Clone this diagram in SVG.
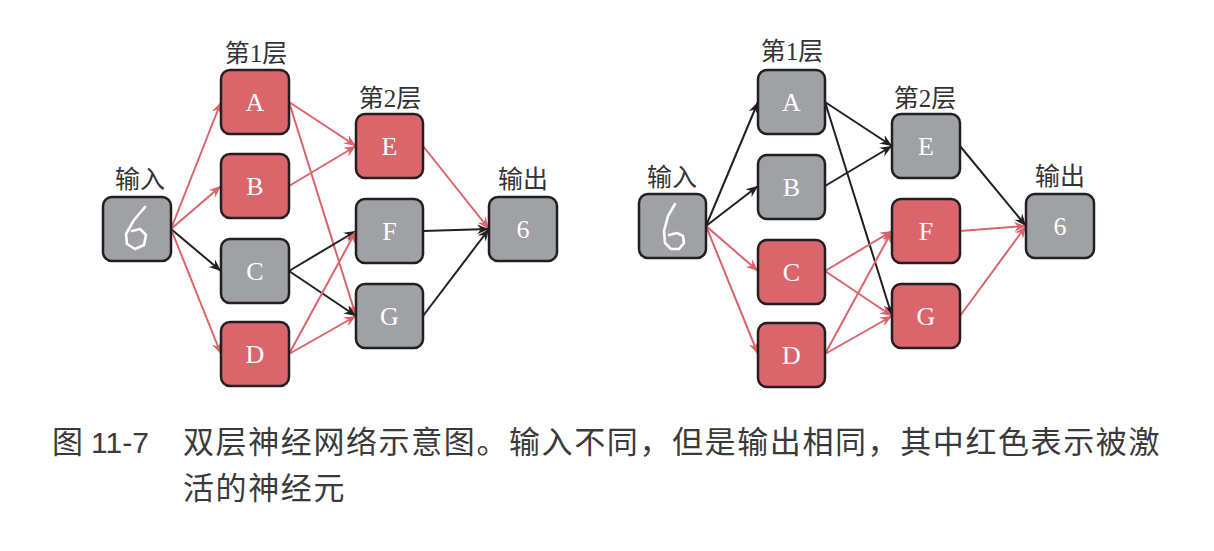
<svg xmlns="http://www.w3.org/2000/svg" width="1214" height="551" viewBox="0 0 1214 551">
<style>
.box{stroke:#231f20;stroke-width:2.5}
.g{fill:#a0a1a5}
.r{fill:#da666b}
.lt{font-family:"Liberation Serif","Noto Sans CJK SC",serif;font-size:26px;fill:#ffffff;text-anchor:middle}
.hd{font-family:"Liberation Serif","Noto Sans CJK SC",serif;font-size:25px;fill:#333333;text-anchor:middle}
.cap{font-family:"Liberation Sans","Noto Sans CJK SC",sans-serif;font-size:31px;fill:#3a3a3a;letter-spacing:1.6px}
.num{font-family:"Liberation Sans",sans-serif;font-size:30px;fill:#3a3a3a}
.er{stroke:#db636b;stroke-width:2;fill:none;marker-end:url(#ar)}
.eb{stroke:#231f20;stroke-width:2;fill:none;marker-end:url(#ab)}
.dig{fill:none;stroke:#ffffff;stroke-width:2.6;stroke-linecap:round;stroke-linejoin:round}
</style>
<defs>
<marker id="ar" markerUnits="userSpaceOnUse" markerWidth="14" markerHeight="12" refX="12" refY="6" orient="auto" viewBox="0 0 14 12">
<path d="M0,1 L12,6 L0,11 L4,6 z" fill="#db636b"/>
</marker>
<marker id="ab" markerUnits="userSpaceOnUse" markerWidth="14" markerHeight="12" refX="12" refY="6" orient="auto" viewBox="0 0 14 12">
<path d="M0,1 L12,6 L0,11 L4,6 z" fill="#231f20"/>
</marker>
</defs>

<g id="connectors">
<line class="er" x1="171" y1="229" x2="221" y2="102"/>
<line class="er" x1="171" y1="229" x2="221" y2="186"/>
<line class="eb" x1="171" y1="229" x2="221" y2="271"/>
<line class="er" x1="171" y1="229" x2="221" y2="354"/>
<line class="er" x1="289" y1="102" x2="356" y2="146"/>
<line class="er" x1="289" y1="102" x2="356" y2="316"/>
<line class="er" x1="289" y1="186" x2="356" y2="146"/>
<line class="eb" x1="289" y1="271" x2="356" y2="231"/>
<line class="eb" x1="289" y1="271" x2="356" y2="316"/>
<line class="er" x1="289" y1="354" x2="356" y2="231"/>
<line class="er" x1="289" y1="354" x2="356" y2="316"/>
<line class="er" x1="423" y1="146" x2="489" y2="229"/>
<line class="eb" x1="423" y1="231" x2="489" y2="229"/>
<line class="eb" x1="423" y1="316" x2="489" y2="229"/>
<line class="eb" x1="706" y1="226" x2="758" y2="102"/>
<line class="eb" x1="706" y1="226" x2="758" y2="186"/>
<line class="er" x1="706" y1="226" x2="758" y2="271"/>
<line class="er" x1="706" y1="226" x2="758" y2="354"/>
<line class="eb" x1="825" y1="102" x2="892" y2="146"/>
<line class="eb" x1="825" y1="102" x2="892" y2="316"/>
<line class="eb" x1="825" y1="186" x2="892" y2="146"/>
<line class="er" x1="825" y1="271" x2="892" y2="231"/>
<line class="er" x1="825" y1="271" x2="892" y2="316"/>
<line class="er" x1="825" y1="354" x2="892" y2="231"/>
<line class="er" x1="825" y1="354" x2="892" y2="316"/>
<line class="eb" x1="960" y1="146" x2="1026" y2="226"/>
<line class="er" x1="960" y1="231" x2="1026" y2="226"/>
<line class="er" x1="960" y1="316" x2="1026" y2="226"/>
</g>

<g id="L-input">
<text class="hd" x="140" y="188">输入</text>
<rect class="box g" x="103" y="197" width="68" height="64" rx="9"/>
<path class="dig" d="M145,207 L134,220 L126,234 L127,244 L135,249 L144,245 L146,235 L140,229 L132,231"/>
</g>
<g id="L-A">
<text class="hd" x="256" y="62">第1层</text>
<rect class="box r" x="221" y="70" width="68" height="64" rx="9"/>
<text class="lt" x="255" y="111">A</text>
</g>
<g id="L-B">
<rect class="box r" x="221" y="154" width="68" height="64" rx="9"/>
<text class="lt" x="255" y="195">B</text>
</g>
<g id="L-C">
<rect class="box g" x="221" y="239" width="68" height="64" rx="9"/>
<text class="lt" x="255" y="280">C</text>
</g>
<g id="L-D">
<rect class="box r" x="221" y="322" width="68" height="64" rx="9"/>
<text class="lt" x="255" y="363">D</text>
</g>
<g id="L-E">
<text class="hd" x="390" y="107">第2层</text>
<rect class="box r" x="356" y="114" width="67" height="64" rx="9"/>
<text class="lt" x="389.5" y="155">E</text>
</g>
<g id="L-F">
<rect class="box g" x="356" y="199" width="67" height="64" rx="9"/>
<text class="lt" x="389.5" y="240">F</text>
</g>
<g id="L-G">
<rect class="box g" x="356" y="284" width="67" height="64" rx="9"/>
<text class="lt" x="389.5" y="325">G</text>
</g>
<g id="L-out">
<text class="hd" x="523" y="188">输出</text>
<rect class="box g" x="489" y="197" width="68" height="64" rx="9"/>
<text class="lt" x="523" y="238">6</text>
</g>

<g id="R-input">
<text class="hd" x="672" y="186">输入</text>
<rect class="box g" x="639" y="194" width="67" height="64" rx="9"/>
<path class="dig" d="M675,204 L668,216 L664,231 L665,243 L671,249 L679,249 L684,243 L683,236 L677,233 L669,235"/>
</g>
<g id="R-A">
<text class="hd" x="792" y="60">第1层</text>
<rect class="box g" x="758" y="70" width="67" height="64" rx="9"/>
<text class="lt" x="791.5" y="111">A</text>
</g>
<g id="R-B">
<rect class="box g" x="758" y="155" width="67" height="64" rx="9"/>
<text class="lt" x="791.5" y="196">B</text>
</g>
<g id="R-C">
<rect class="box r" x="758" y="240" width="67" height="64" rx="9"/>
<text class="lt" x="791.5" y="281">C</text>
</g>
<g id="R-D">
<rect class="box r" x="758" y="323" width="67" height="64" rx="9"/>
<text class="lt" x="791.5" y="364">D</text>
</g>
<g id="R-E">
<text class="hd" x="925" y="107">第2层</text>
<rect class="box g" x="892" y="114" width="68" height="64" rx="9"/>
<text class="lt" x="926" y="155">E</text>
</g>
<g id="R-F">
<rect class="box r" x="892" y="199" width="68" height="64" rx="9"/>
<text class="lt" x="926" y="240">F</text>
</g>
<g id="R-G">
<rect class="box r" x="892" y="284" width="68" height="64" rx="9"/>
<text class="lt" x="926" y="325">G</text>
</g>
<g id="R-out">
<text class="hd" x="1060" y="185">输出</text>
<rect class="box g" x="1026" y="194" width="68" height="64" rx="9"/>
<text class="lt" x="1060" y="235">6</text>
</g>

<g id="caption">
<text class="cap" x="52" y="453">图</text>
<text class="num" x="91" y="453">11-7</text>
<text class="cap" x="183" y="453">双层神经网络示意图。输入不同，但是输出相同，其中红色表示被激</text>
<text class="cap" x="183" y="499">活的神经元</text>
</g>
</svg>
